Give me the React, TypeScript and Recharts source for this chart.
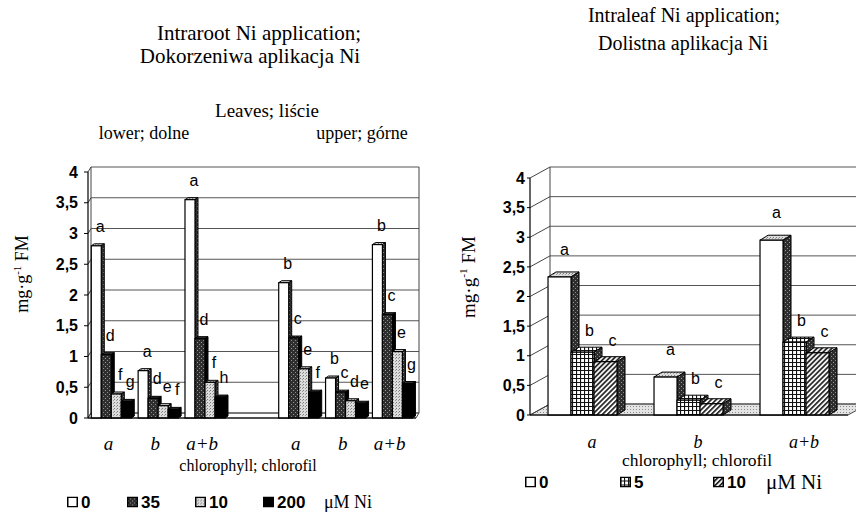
import React from "react";
import { BarChart, Bar, XAxis, YAxis, CartesianGrid, LabelList } from "recharts";

const SERIF = '"Liberation Serif", "Times New Roman", serif';
const SANS = '"Liberation Sans", Arial, sans-serif';

// left panel: intraroot application, lower leaves (a, b, a+b) | gap | upper leaves
const rootCategories = ["a", "b", "a+b", "", "a", "b", "a+b"];
const root0 = [2.8, 0.77, 3.55, null, 2.2, 0.65, 2.82];
const root35 = [1.03, 0.32, 1.29, null, 1.3, 0.42, 1.68];
const root100 = [0.39, 0.2, 0.58, null, 0.8, 0.28, 1.08];
const root200 = [0.27, 0.14, 0.34, null, 0.42, 0.24, 0.56];
const rootLetters0 = ["a", "a", "a", "", "b", "b", "b"];
const rootLetters35 = ["d", "d", "d", "", "c", "c", "c"];
const rootLetters100 = ["f", "e", "f", "", "e", "d", "e"];
const rootLetters200 = ["g", "f", "h", "", "f", "e", "g"];
const rootDoses = ["0", "35", "10", "200"];

// right panel: intraleaf application
const leafCategories = ["a", "b", "a+b"];
const leaf0 = [2.33, 0.64, 2.95];
const leaf5 = [1.06, 0.25, 1.23];
const leaf10 = [0.9, 0.19, 1.05];
const leafLetters0 = ["a", "a", "a"];
const leafLetters5 = ["b", "b", "b"];
const leafLetters10 = ["c", "c", "c"];
const leafDoses = ["0", "5", "10"];

const yTicks = [0, 0.5, 1, 1.5, 2, 2.5, 3, 3.5, 4];

const rootData = rootCategories.map((cat, i) => ({
  cat,
  n0: root0[i],
  n35: root35[i],
  n100: root100[i],
  n200: root200[i],
  l0: rootLetters0[i],
  l35: rootLetters35[i],
  l100: rootLetters100[i],
  l200: rootLetters200[i],
}));

const leafData = leafCategories.map((cat, i) => ({
  cat,
  n0: leaf0[i],
  n5: leaf5[i],
  n10: leaf10[i],
  l0: leafLetters0[i],
  l5: leafLetters5[i],
  l10: leafLetters10[i],
}));

function Patterns() {
  return (
    <svg width={0} height={0} style={{ position: "absolute" }}>
      <defs>
        <pattern id="darkDots" width={4} height={4} patternUnits="userSpaceOnUse">
          <rect width={4} height={4} fill="#2e2e2e" />
          <rect x={1} y={0} width={1} height={1} fill="#9c9c9c" />
          <rect x={3} y={2} width={1} height={1} fill="#8a8a8a" />
        </pattern>
        <pattern id="lightDots" width={3} height={3} patternUnits="userSpaceOnUse">
          <rect width={3} height={3} fill="#dcdcdc" />
          <rect x={0} y={0} width={1} height={1} fill="#7c7c7c" />
          <rect x={2} y={1} width={1} height={1} fill="#9a9a9a" />
        </pattern>
        <pattern id="floorDots" width={3} height={3} patternUnits="userSpaceOnUse">
          <rect width={3} height={3} fill="#e4e4e4" />
          <rect x={1} y={1} width={1} height={1} fill="#8c8c8c" />
        </pattern>
        <pattern id="checker" width={4} height={4} patternUnits="userSpaceOnUse">
          <rect width={4} height={4} fill="#fff" />
          <path d="M0 0.5H4M0.5 0V4" stroke="#111" strokeWidth={1.2} />
        </pattern>
        <pattern id="hatch" width={3.5} height={3.5} patternUnits="userSpaceOnUse" patternTransform="rotate(45)">
          <rect width={3.5} height={3.5} fill="#f4f4f4" />
          <rect width={1.6} height={3.5} fill="#1a1a1a" />
        </pattern>
      </defs>
    </svg>
  );
}

function Box3D(props: any) {
  const { x, y, width, height, face, top, side, dx, dy } = props;
  if (!(height > 0) || !(width > 0)) return null;
  const r = x + width;
  const b = y + height;
  return (
    <g>
      <polygon points={`${x},${y} ${x + dx},${y - dy} ${r + dx},${y - dy} ${r},${y}`} fill={top} stroke="#000" strokeWidth={1} />
      <polygon points={`${r},${y} ${r + dx},${y - dy} ${r + dx},${b - dy} ${r},${b}`} fill={side} stroke="#000" strokeWidth={1} />
      <rect x={x} y={y} width={width} height={height} fill={face} stroke="#000" strokeWidth={1.2} />
    </g>
  );
}

const box = (face: string, top: string, side: string, dx: number, dy: number) => (p: any) =>
  <Box3D {...p} face={face} top={top} side={side} dx={dx} dy={dy} />;

const letter = (dx: number, lift: number, size: number) => (p: any) => {
  const { x, y, width, value } = p;
  if (!value) return null;
  return (
    <text x={x + width / 2 + dx} y={y - lift} textAnchor="middle" fontFamily={SANS} fontSize={size} fill="#000">
      {value}
    </text>
  );
};

// 3D back wall, floor and gridlines, drawn from the grid's own line props
function wallLines(top: number, bottom: number, dx: number, dy: number, floor: boolean) {
  return (p: any) => {
    const { x1, x2, y1 } = p;
    const isBottom = Math.abs(y1 - bottom) < 1;
    const isTop = Math.abs(y1 - top) < 1;
    return (
      <g key={p.key ?? p.index}>
        {isBottom && (
          <polygon
            points={`${x1},${y1} ${x1 + dx},${y1 - dy} ${x2 + dx},${y1 - dy} ${x2},${y1}`}
            fill={floor ? "url(#floorDots)" : "#fff"}
            stroke="#444"
          />
        )}
        <line x1={x1} y1={y1} x2={x1 + dx} y2={y1 - dy} stroke="#444" />
        <line x1={x1 + dx} y1={y1 - dy} x2={x2 + dx} y2={y1 - dy} stroke="#555" strokeWidth={1} />
        {isTop && (
          <>
            <line x1={x1 + dx} y1={y1 - dy} x2={x1 + dx} y2={bottom - dy} stroke="#444" />
            <line x1={x2 + dx} y1={y1 - dy} x2={x2 + dx} y2={bottom - dy} stroke="#444" />
          </>
        )}
      </g>
    );
  };
}

const catTick = (dx: number, down: number, size: number) => (p: any) => (
  <text
    x={p.x + dx}
    y={p.y + down}
    textAnchor="middle"
    dominantBaseline="central"
    fontFamily={SERIF}
    fontStyle="italic"
    fontSize={size}
    fill="#000"
  >
    {p.payload.value}
  </text>
);

const comma = (v: number) => String(v).replace(".", ",");

function T({ x, y, size, children, style }: any) {
  return (
    <div
      style={{
        position: "absolute",
        left: x,
        top: y,
        transform: "translate(-50%, -50%)",
        fontFamily: SERIF,
        fontSize: size,
        lineHeight: 1,
        whiteSpace: "nowrap",
        color: "#000",
        ...style,
      }}
    >
      {children}
    </div>
  );
}

function Key({ x, y, fill, text, size }: any) {
  return (
    <div
      style={{
        position: "absolute",
        left: x,
        top: y,
        transform: "translateY(-50%)",
        display: "flex",
        alignItems: "center",
        gap: 3,
        fontFamily: SANS,
        fontWeight: 700,
        fontSize: size,
        lineHeight: 1,
      }}
    >
      <svg width={11} height={11}>
        <rect x={0.75} y={0.75} width={9.5} height={9.5} fill={fill} stroke="#000" strokeWidth={1.5} />
      </svg>
      <span>{text}</span>
    </div>
  );
}

function YLabel({ x, y, size }: any) {
  return (
    <T x={x} y={y} size={size} style={{ transform: "translate(-50%, -50%) rotate(-90deg)" }}>
      mg·g<sup style={{ fontSize: "0.6em" }}>-1</sup> FM
    </T>
  );
}

export default function App() {
  const tickStyle = { fontFamily: SANS, fontWeight: 700, fontSize: 16, fill: "#000" };
  return (
    <div style={{ position: "absolute", left: 0, top: 0, width: 856, height: 518, background: "#fff", overflow: "hidden" }}>
      <Patterns />

      {/* left panel texts */}
      <T x={259} y={33} size={21}>Intraroot Ni application;</T>
      <T x={250} y={56} size={21}>Dokorzeniwa aplikacja Ni</T>
      <T x={267} y={110} size={19}>Leaves; liście</T>
      <T x={144} y={133} size={18}>lower; dolne</T>
      <T x={362} y={133} size={18}>upper; górne</T>
      <YLabel x={21} y={274} size={18} />
      <T x={248} y={466} size={16}>chlorophyll; chlorofil</T>

      {/* right panel texts */}
      <T x={684} y={15} size={20}>Intraleaf Ni application;</T>
      <T x={683} y={43} size={20}>Dolistna aplikacja Ni</T>
      <YLabel x={468} y={277} size={19} />
      <T x={697} y={461} size={17.5}>chlorophyll; chlorofil</T>

      <div style={{ position: "absolute", left: 0, top: 150 }}>
        <BarChart
          width={440}
          height={310}
          data={rootData}
          margin={{ top: 22, right: 24, bottom: 12, left: 8 }}
          barCategoryGap="7%"
          barGap={0}
        >
          <CartesianGrid vertical={false} horizontal={wallLines(22, 268, 3, 5, false)} />
          <XAxis
            dataKey="cat"
            height={30}
            tickLine={false}
            tickSize={0}
            tickMargin={0}
            axisLine={{ stroke: "#000", strokeWidth: 1.2 }}
            tick={catTick(-3, 25, 19)}
            interval={0}
          />
          <YAxis
            width={80}
            domain={[0, 4]}
            ticks={yTicks}
            interval={0}
            tickFormatter={comma}
            tickSize={4}
            tickMargin={6}
            axisLine={{ stroke: "#000", strokeWidth: 1.2 }}
            tickLine={{ stroke: "#000" }}
            tick={tickStyle}
          />
          <Bar dataKey="n0" isAnimationActive={false} fill="#fff" shape={box("#fff", "url(#lightDots)", "url(#darkDots)", 3, 2)}>
            <LabelList dataKey="l0" content={letter(4, 14, 16)} />
          </Bar>
          <Bar dataKey="n35" isAnimationActive={false} fill="#333" shape={box("url(#darkDots)", "url(#darkDots)", "#000", 3, 2)}>
            <LabelList dataKey="l35" content={letter(4, 14, 16)} />
          </Bar>
          <Bar dataKey="n100" isAnimationActive={false} fill="#ccc" shape={box("url(#lightDots)", "url(#lightDots)", "url(#darkDots)", 3, 2)}>
            <LabelList dataKey="l100" content={letter(4, 14, 16)} />
          </Bar>
          <Bar dataKey="n200" isAnimationActive={false} fill="#000" shape={box("#000", "#333", "#000", 3, 2)}>
            <LabelList dataKey="l200" content={letter(4, 14, 16)} />
          </Bar>
        </BarChart>
      </div>

      <div style={{ position: "absolute", left: 440, top: 150 }}>
        <BarChart
          width={416}
          height={310}
          data={leafData}
          margin={{ top: 28, right: 8, bottom: 15, left: 8 }}
          barCategoryGap="17%"
          barGap={0}
        >
          <CartesianGrid vertical={false} horizontal={wallLines(28, 265, 20, 11, true)} />
          <XAxis
            dataKey="cat"
            height={30}
            tickLine={false}
            tickSize={0}
            tickMargin={0}
            axisLine={{ stroke: "#000", strokeWidth: 1 }}
            tick={catTick(9, 27, 18)}
            interval={0}
          />
          <YAxis
            width={82}
            domain={[0, 4]}
            ticks={yTicks}
            interval={0}
            tickFormatter={comma}
            tickSize={3}
            tickMargin={2}
            axisLine={{ stroke: "#000", strokeWidth: 1.2 }}
            tickLine={{ stroke: "#000" }}
            tick={tickStyle}
          />
          <Bar dataKey="n0" isAnimationActive={false} fill="#fff" shape={box("#fff", "url(#lightDots)", "url(#darkDots)", 8, 5)}>
            <LabelList dataKey="l0" content={letter(5, 22, 16)} />
          </Bar>
          <Bar dataKey="n5" isAnimationActive={false} fill="#888" shape={box("url(#checker)", "url(#checker)", "url(#darkDots)", 8, 5)}>
            <LabelList dataKey="l5" content={letter(7, 16, 16)} />
          </Bar>
          <Bar dataKey="n10" isAnimationActive={false} fill="#555" shape={box("url(#hatch)", "url(#hatch)", "url(#darkDots)", 8, 5)}>
            <LabelList dataKey="l10" content={letter(7, 16, 16)} />
          </Bar>
        </BarChart>
      </div>

      {/* legends */}
      <Key x={67} y={502} fill="#fff" text={rootDoses[0]} size={17} />
      <Key x={127} y={502} fill="url(#darkDots)" text={rootDoses[1]} size={17} />
      <Key x={195} y={502} fill="url(#lightDots)" text={rootDoses[2]} size={17} />
      <Key x={263} y={502} fill="#000" text={rootDoses[3]} size={17} />
      <T x={348} y={502} size={18}>μM Ni</T>

      <Key x={525} y={482} fill="#fff" text={leafDoses[0]} size={17} />
      <Key x={620} y={482} fill="url(#checker)" text={leafDoses[1]} size={17} />
      <Key x={713} y={482} fill="url(#hatch)" text={leafDoses[2]} size={17} />
      <T x={794} y={482} size={21}>μM Ni</T>
    </div>
  );
}
